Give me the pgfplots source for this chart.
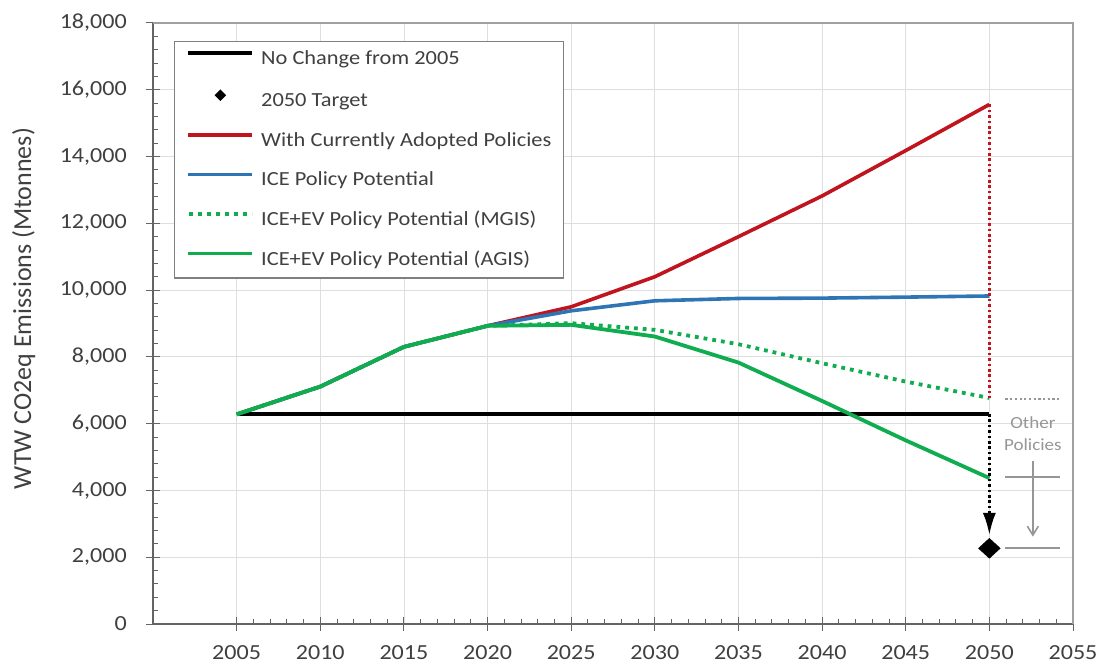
\documentclass[border=0pt]{standalone}
\usepackage{pgfplots}
\pgfplotsset{compat=1.18}
\usepackage{fontspec}
\setmainfont{Carlito}[FakeStretch=1.12]
\newfontfamily\ylabfont{Carlito}
\usetikzlibrary{arrows.meta}
\definecolor{txtgray}{RGB}{64,64,64}
\definecolor{axgray}{RGB}{100,100,100}
\definecolor{boxgray}{RGB}{160,160,160}
\definecolor{gridgray}{RGB}{222,222,222}
\definecolor{leggray}{RGB}{128,128,128}
\definecolor{annogray}{RGB}{150,150,150}
\definecolor{cred}{RGB}{192,20,30}
\definecolor{cblue}{RGB}{46,117,182}
\definecolor{cgreen}{RGB}{16,172,80}

\pgfplotstableread{
year black red blue mgis agis
2005 6290 6280 6280 6280 6280
2010 6290 7110 7110 7110 7110
2015 6290 8300 8300 8300 8300
2020 6290 8930 8930 8930 8930
2025 6290 9500 9380 9010 8960
2030 6290 10400 9680 8810 8610
2035 6290 11600 9750 8380 7830
2040 6290 12820 9760 7810 6680
2045 6290 14180 9790 7260 5500
2050 6290 15560 9824 6770 4370
}\datatable

\begin{document}
\begin{tikzpicture}
\begin{axis}[
  scale only axis,
  width=920bp, height=601bp,
  xmin=2000, xmax=2055, ymin=0, ymax=18000,
  axis lines*=left,
  axis line style={draw=axgray, line width=1.2bp},
  xtick={2005,2010,...,2055},
  ytick={0,2000,...,18000},
  scaled y ticks=false, scaled x ticks=false,
  minor x tick num=4, minor y tick num=4,
  tick align=inside,
  major tick length=14bp, minor tick length=5bp,
  tick style={draw=axgray, line width=1bp},
  major x tick style={yshift=-7bp},
  major y tick style={xshift=-7bp},
  grid=major,
  major grid style={draw=gridgray, line width=0.8bp},
  /pgf/number format/.cd, 1000 sep={,}, assume math mode=true,
  /pgfplots/.cd,
  tick label style={font=\fontsize{21.5bp}{24bp}\selectfont, text=txtgray},
  yticklabel style={anchor=east, inner sep=0pt, xshift=-26bp},
  xticklabel style={anchor=north, inner sep=0pt, yshift=-21bp},
  xticklabel={\pgfmathprintnumber[1000 sep={}]{\tick}},
  yticklabel={\pgfmathprintnumber[1000 sep={,}]{\tick}},
  ylabel={\ylabfont\fontsize{26bp}{30bp}\selectfont WTW CO2eq Emissions (Mtonnes)},
  ylabel style={at={(axis description cs:-0.1404,0.525)}, anchor=center, text=txtgray},
  clip=false,
  legend cell align=left,
  legend style={at={(rel axis cs:0.0228,0.970)}, anchor=north west,
    draw=leggray, line width=1.2bp, inner xsep=12bp, inner ysep=9bp,
    font=\fontsize{20bp}{24bp}\selectfont, text=txtgray,
    row sep=21.6bp, column sep=7bp,
    nodes={inner sep=0bp, text height=14bp, text depth=4bp}},
]
\draw[boxgray, line width=1.2bp] (rel axis cs:0,1) -- (rel axis cs:1,1) -- (rel axis cs:1,0);

\addlegendimage{legend image code/.code={\draw[black, line width=3.6bp] (0bp,6.4bp) -- (64bp,6.4bp);}}
\addlegendentry{No Change from 2005}
\addlegendimage{legend image code/.code={\draw[black, mark=diamond*, mark size=5bp, mark options={xscale=1.33}] plot coordinates {(32bp,6.4bp)};}}
\addlegendentry{2050 Target}
\addlegendimage{legend image code/.code={\draw[cred, line width=3.6bp] (0bp,6.4bp) -- (64bp,6.4bp);}}
\addlegendentry{With Currently Adopted Policies}
\addlegendimage{legend image code/.code={\draw[cblue, line width=3.6bp] (0bp,6.4bp) -- (64bp,6.4bp);}}
\addlegendentry{ICE Policy Potential}
\addlegendimage{legend image code/.code={\draw[cgreen, line width=3.4bp, dash pattern=on 3.4bp off 5.6bp] (1bp,6.4bp) -- (64bp,6.4bp);}}
\addlegendentry{ICE+EV Policy Potential (MGIS)}
\addlegendimage{legend image code/.code={\draw[cgreen, line width=3.6bp] (0bp,6.4bp) -- (64bp,6.4bp);}}
\addlegendentry{ICE+EV Policy Potential (AGIS)}

\addplot[forget plot, black, line width=3.8bp] coordinates {(2005,6290) (2050,6290)};
\addplot[forget plot, cred, line width=3.6bp] table[x=year, y=red] {\datatable};
\addplot[forget plot, cblue, line width=3.6bp] table[x=year, y=blue] {\datatable};
\addplot[forget plot, cgreen, line width=3.8bp, dash pattern=on 3.8bp off 5bp] table[x=year, y=mgis] {\datatable};
\addplot[forget plot, cgreen, line width=3.8bp] table[x=year, y=agis] {\datatable};
\addplot[forget plot, cred, line width=2.6bp, dash pattern=on 2.6bp off 2.8bp] coordinates {(2050,15560) (2050,6770)};
\addplot[forget plot, black, line width=2.6bp, dash pattern=on 2.6bp off 2.8bp, -{Latex[length=22bp,width=13bp]}] coordinates {(2050,6290) (2050,2666)};
\addplot[forget plot, only marks, black, mark=diamond*, mark size=10bp, mark options={xscale=1.45}] coordinates {(2050,2267)};

\addplot[forget plot, annogray, line width=1.8bp, dash pattern=on 2.2bp off 2.5bp] coordinates {(2050.96,6728) (2054.2,6728)};
\addplot[forget plot, annogray, line width=2.2bp] coordinates {(2050.96,4412) (2054.2,4412)};
\addplot[forget plot, annogray, line width=2.2bp] coordinates {(2050.96,2267) (2054.2,2267)};
\addplot[forget plot, annogray, line width=1.6bp, -{Straight Barb[length=9bp,width=11bp]}] coordinates {(2052.6,4880) (2052.6,2615)};
\node[text=annogray, align=center, font=\fontsize{17bp}{22bp}\selectfont, inner sep=0pt] at (axis cs:2052.6,5700) {Other\\Policies};
\end{axis}
\pgfresetboundingbox
\path ([shift={(-153bp,-41bp)}]current axis.south west) rectangle ([shift={(29bp,23bp)}]current axis.north east);
\end{tikzpicture}
\end{document}
